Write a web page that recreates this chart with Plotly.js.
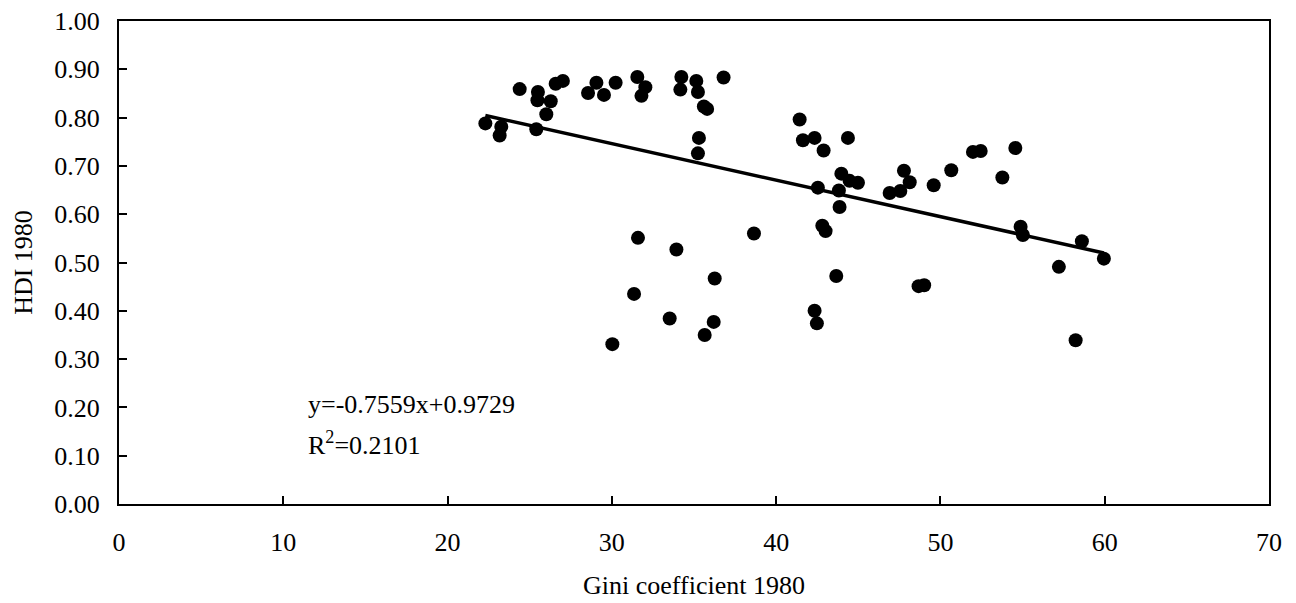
<!DOCTYPE html>
<html>
<head>
<meta charset="utf-8">
<script src="https://cdn.plot.ly/plotly-3.0.1.min.js"></script>
<style>html,body{margin:0;padding:0;background:#fff;}#chart{width:1296px;height:603px;}</style>
</head>
<body>
<div id="chart"></div>
<script>
// Gini coefficient 1980 (x) and HDI 1980 (y)
const gini = [22.30, 23.17, 23.27, 24.39, 25.50, 25.47, 26.28, 26.01, 25.40, 26.58,
  27.02, 28.55, 29.06, 29.52, 30.23, 31.55, 32.04, 31.80, 34.23, 34.17,
  35.14, 35.24, 35.60, 35.80, 35.30, 35.24, 36.80, 41.43, 41.63, 42.34,
  42.89, 44.37, 43.97, 44.47, 44.98, 42.54, 43.82, 43.86, 42.81, 43.01,
  31.59, 33.93, 38.65, 36.26, 43.66, 31.35, 33.52, 36.20, 35.65, 30.03,
  42.34, 42.48, 47.78, 48.13, 47.56, 46.91, 49.59, 50.66, 51.98, 52.45,
  54.56, 53.77, 54.88, 55.02, 58.61, 59.95, 57.21, 48.67, 49.01, 58.23];
const hdi = [0.788, 0.763, 0.781, 0.859, 0.853, 0.836, 0.834, 0.807, 0.776, 0.870,
  0.876, 0.851, 0.872, 0.847, 0.872, 0.884, 0.863, 0.845, 0.884, 0.858,
  0.876, 0.853, 0.823, 0.818, 0.758, 0.726, 0.883, 0.796, 0.753, 0.758,
  0.732, 0.758, 0.684, 0.669, 0.665, 0.655, 0.649, 0.615, 0.576, 0.565,
  0.551, 0.527, 0.560, 0.467, 0.472, 0.435, 0.384, 0.377, 0.350, 0.331,
  0.400, 0.374, 0.690, 0.666, 0.648, 0.644, 0.660, 0.691, 0.729, 0.731,
  0.737, 0.676, 0.574, 0.557, 0.544, 0.508, 0.491, 0.451, 0.453, 0.339];

// Linear trend (x expressed as a fraction, as in the printed equation)
const slope = -0.7559;
const intercept = 0.9729;
const eqText = "y=-0.7559x+0.9729";
const r2Text = "R<sup>2</sup>=0.2101";

const xMin = Math.min(...gini), xMax = Math.max(...gini);
const trendX = [xMin, xMax];
const trendY = trendX.map(v => intercept + slope * v / 100);

const FONT = "Liberation Serif, Times New Roman, serif";
const FS = 26;

const traces = [
  {x: gini, y: hdi, type: "scatter", mode: "markers",
   marker: {color: "#000", size: 14}, hoverinfo: "x+y", showlegend: false},
  {x: trendX, y: trendY, type: "scatter", mode: "lines",
   line: {color: "#000", width: 3.5}, hoverinfo: "skip", showlegend: false}
];

const layout = {
  width: 1296, height: 603,
  margin: {l: 119, r: 27, t: 21, b: 99},
  paper_bgcolor: "#fff", plot_bgcolor: "#fff",
  font: {family: FONT, size: FS, color: "#000"},
  xaxis: {
    range: [0, 70], dtick: 10, tick0: 0,
    showgrid: false, zeroline: false,
    showline: true, linecolor: "#000", linewidth: 2, mirror: true,
    ticks: "inside", ticklen: 8, tickwidth: 2, tickcolor: "#000",
    ticklabelstandoff: 14,
    title: {text: "Gini coefficient 1980", font: {family: FONT, size: FS}, standoff: 20},
    automargin: false
  },
  yaxis: {
    range: [0, 1], dtick: 0.1, tick0: 0, tickformat: ".2f",
    showgrid: false, zeroline: false,
    showline: true, linecolor: "#000", linewidth: 2, mirror: true,
    ticks: "inside", ticklen: 8, tickwidth: 2, tickcolor: "#000",
    ticklabelstandoff: 12,
    title: {text: "HDI 1980", font: {family: FONT, size: FS}, standoff: 14},
    automargin: false
  },
  annotations: [
    {x: 11.4, y: 0.205, xref: "x", yref: "y", text: eqText, showarrow: false,
     xanchor: "left", yanchor: "middle", font: {family: FONT, size: FS}},
    {x: 11.4, y: 0.126, xref: "x", yref: "y", text: r2Text, showarrow: false,
     xanchor: "left", yanchor: "middle", font: {family: FONT, size: FS}}
  ]
};

Plotly.newPlot("chart", traces, layout, {displayModeBar: false, staticPlot: true});
</script>
</body>
</html>
